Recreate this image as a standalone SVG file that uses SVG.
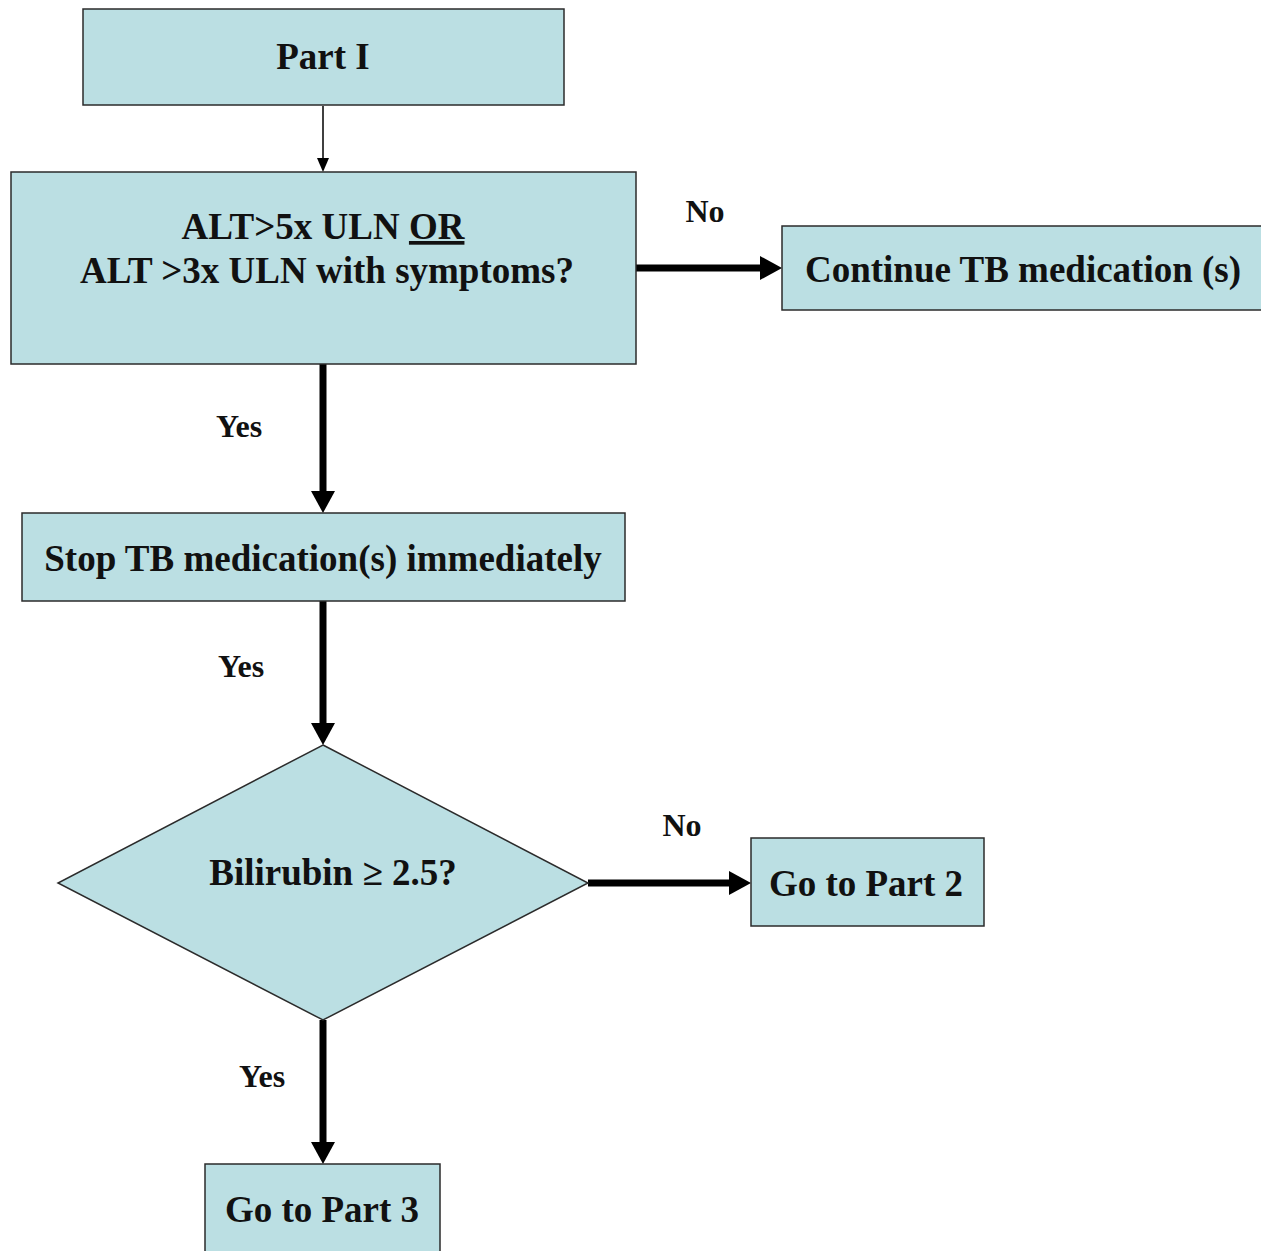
<svg xmlns="http://www.w3.org/2000/svg" width="1261" height="1251" viewBox="0 0 1261 1251">
<style>
.box{fill:#bbdfe3;stroke:#2b2b2b;stroke-width:1.5}
.t{font-family:"Liberation Serif","Times New Roman",serif;font-weight:bold;font-size:37px;fill:#111;text-anchor:middle}
.lbl{font-family:"Liberation Serif","Times New Roman",serif;font-weight:bold;font-size:32px;fill:#111;text-anchor:middle}
.thick{stroke:#000;stroke-width:7;fill:none}
.thin{stroke:#000;stroke-width:1.5;fill:none}
</style>
<defs>
<marker id="ah" markerUnits="userSpaceOnUse" viewBox="0 0 22 24" refX="0" refY="12" markerWidth="22" markerHeight="24" orient="auto">
<path d="M0,0 L22,12 L0,24 Z" fill="#000"/>
</marker>
<marker id="ahs" markerUnits="userSpaceOnUse" viewBox="0 0 14 12" refX="0" refY="6" markerWidth="14" markerHeight="12" orient="auto">
<path d="M0,0 L14,6 L0,12 Z" fill="#000"/>
</marker>
</defs>
<rect width="1261" height="1251" fill="#fff"/>
<g id="connectors">
<line class="thin" x1="323" y1="106" x2="323" y2="158" marker-end="url(#ahs)"/>
<line class="thick" x1="636" y1="268" x2="760" y2="268" marker-end="url(#ah)"/>
<line class="thick" x1="323" y1="364" x2="323" y2="491" marker-end="url(#ah)"/>
<line class="thick" x1="323" y1="601" x2="323" y2="723" marker-end="url(#ah)"/>
<line class="thick" x1="588" y1="883" x2="729" y2="883" marker-end="url(#ah)"/>
<line class="thick" x1="323" y1="1020" x2="323" y2="1142" marker-end="url(#ah)"/>
<text class="lbl" x="705" y="222">No</text>
<text class="lbl" x="239" y="437">Yes</text>
<text class="lbl" x="241" y="677">Yes</text>
<text class="lbl" x="682" y="836">No</text>
<text class="lbl" x="262" y="1087">Yes</text>
</g>
<g id="part1">
<rect class="box" x="83" y="9" width="481" height="96"/>
<text class="t" x="323" y="69">Part I</text>
</g>
<g id="alt">
<rect class="box" x="11" y="172" width="625" height="192"/>
<text class="t" x="323" y="239">ALT&gt;5x ULN <tspan text-decoration="underline">OR</tspan></text>
<text class="t" x="327" y="283">ALT &gt;3x ULN with symptoms?</text>
</g>
<g id="continue">
<rect class="box" x="782" y="226" width="482" height="84"/>
<text class="t" x="1023" y="282">Continue TB medication (s)</text>
</g>
<g id="stop">
<rect class="box" x="22" y="513" width="603" height="88"/>
<text class="t" x="323" y="571">Stop TB medication(s) immediately</text>
</g>
<g id="bilirubin">
<polygon class="box" points="323,745 588,883 323,1020 58,883"/>
<text class="t" x="333" y="885">Bilirubin  ≥ 2.5?</text>
</g>
<g id="part2">
<rect class="box" x="751" y="838" width="233" height="88"/>
<text class="t" x="866" y="896">Go to Part 2</text>
</g>
<g id="part3">
<rect class="box" x="205" y="1164" width="235" height="95"/>
<text class="t" x="322" y="1222">Go to Part 3</text>
</g>
</svg>
